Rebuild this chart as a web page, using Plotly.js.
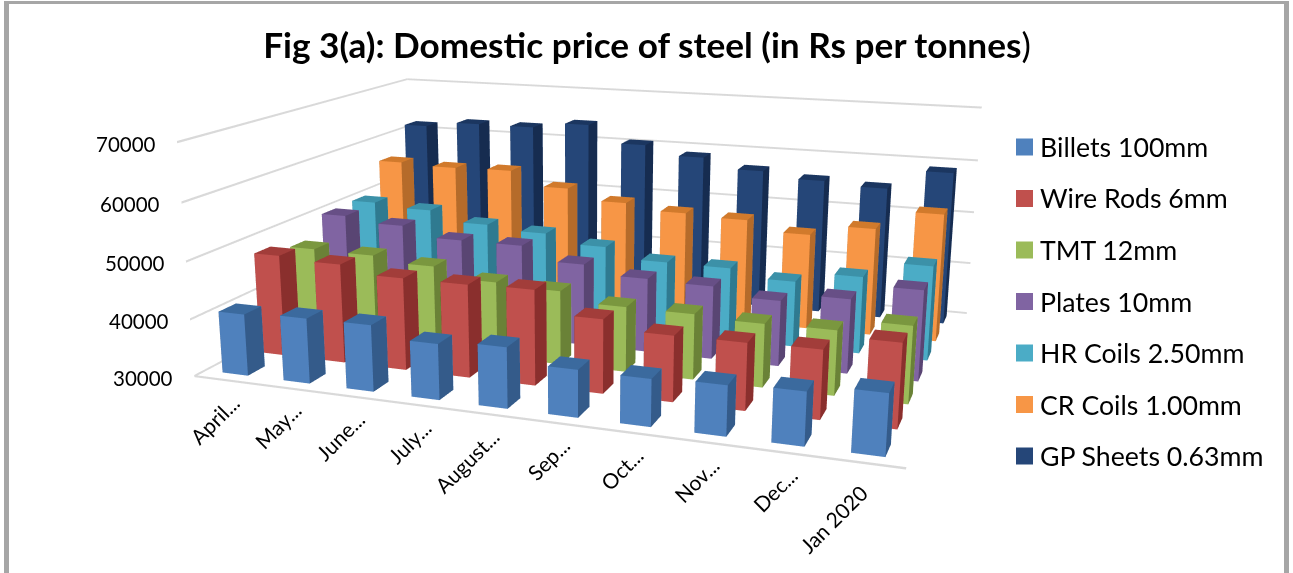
<!DOCTYPE html>
<html>
<head>
<meta charset="utf-8">
<script src="https://cdn.plot.ly/plotly-3.0.1.min.js"></script>
<style>
html,body{margin:0;padding:0;background:#fff;overflow:hidden;width:1293px;height:573px}
#chart{position:absolute;left:0;top:-324px;width:1293px;height:1222px}
</style>
</head>
<body>
<div id="chart"></div>
<script>
var categories = ["April...","May...","June...","July...","August...","Sep...","Oct...","Nov...","Dec...","Jan 2020"];
var seriesNames = ["Billets 100mm","Wire Rods 6mm","TMT 12mm","Plates 10mm","HR Coils 2.50mm","CR Coils 1.00mm","GP Sheets 0.63mm"];

var billets  = [40800,41300,41400,39500,40250,37900,37800,38200,38650,39850];
var wireRods = [48100,47600,46250,46250,46500,42700,41200,41300,41500,43900];
var tmt      = [46500,46350,45400,43600,43150,41500,41450,41000,41150,43150];
var plates   = [50150,49200,47400,47400,44950,43400,43150,41700,43150,45850];
var hrCoils  = [50300,49650,47750,47000,45400,43500,43450,42050,44000,47000];
var crCoils  = [56150,55800,56000,53300,51300,50200,49800,47950,50000,53600];
var gpSheets = [61700,62750,62750,63900,60550,58800,56900,55800,55150,58900];
var allSeries = [billets,wireRods,tmt,plates,hrCoils,crCoils,gpSheets];

var frontColors = ["#4F81BD","#C0504D","#9BBB59","#8064A2","#4BACC6","#F79646","#254678"];
var sideColors  = ["#345B8A","#8A2F2D","#6A8237","#594573","#2F7A90","#B56B2A","#162C50"];
var topColors   = ["#3B6A9E","#A23D3A","#7A973F","#674F86","#3C91A8","#D17A2C","#1B3660"];
var zTicks = [30000,40000,50000,60000,70000];
var gridColor = '#D9D9D9';

var Z0 = 30000, Z1 = 70000, BAR_X = 0.21, BAR_Y = 0.225, LINE_HALF = 190, ZPAD = 300;
var OFFSET = 324, H = 1222, W = 1293;
var NX = categories.length, NY = seriesNames.length;
function px(x){return x/W;}
function py(y){return 1-(y+OFFSET)/H;}

function barMesh(idx){
  var vals = allSeries[idx], xs=[],ys=[],zs=[],I=[],J=[],K=[],fc=[];
  var face = [
    [[0,1,5,4],frontColors[idx]],
    [[1,2,6,5],sideColors[idx]],
    [[4,5,6,7],topColors[idx]],
    [[3,0,4,7],sideColors[idx]],
    [[2,3,7,6],frontColors[idx]]
  ];
  vals.forEach(function(v,c){
    var n = xs.length, cx=c+0.5, cy=idx+0.5;
    [[-1,-1,0],[1,-1,0],[1,1,0],[-1,1,0],[-1,-1,1],[1,-1,1],[1,1,1],[-1,1,1]].forEach(function(p){
      xs.push(cx+p[0]*BAR_X); ys.push(cy+p[1]*BAR_Y); zs.push(p[2]?v:Z0);
    });
    face.forEach(function(f){
      var q=f[0];
      I.push(n+q[0]);J.push(n+q[1]);K.push(n+q[2]);fc.push(f[1]);
      I.push(n+q[0]);J.push(n+q[2]);K.push(n+q[3]);fc.push(f[1]);
    });
  });
  return {type:'mesh3d',name:seriesNames[idx],x:xs,y:ys,z:zs,i:I,j:J,k:K,facecolor:fc,flatshading:true,
    lighting:{ambient:1,diffuse:0,specular:0,roughness:1,fresnel:0},hoverinfo:'skip',showscale:false};
}

/* wall gridlines and the front floor edge, as thin ribbons so they keep a 2px weight */
function gridMesh(){
  var xs=[],ys=[],zs=[],I=[],J=[],K=[];
  function ribbon(x0,y0,x1,y1,t){
    var n=xs.length;
    xs.push(x0,x1,x1,x0); ys.push(y0,y1,y1,y0); zs.push(t-LINE_HALF,t-LINE_HALF,t+LINE_HALF,t+LINE_HALF);
    I.push(n,n); J.push(n+1,n+2); K.push(n+2,n+3);
  }
  zTicks.forEach(function(t){ ribbon(0,0,0,NY,t); ribbon(0,NY,NX,NY,t); });
  ribbon(0,0,NX,0,Z0);
  return {type:'mesh3d',x:xs,y:ys,z:zs,i:I,j:J,k:K,color:gridColor,flatshading:true,
    lighting:{ambient:1,diffuse:0,specular:0,roughness:1,fresnel:0},hoverinfo:'skip',showscale:false};
}

var traces = allSeries.map(function(_,i){return barMesh(i);});
traces.push(gridMesh());

var labelFont = {family:'Lato, sans-serif',size:20.5,color:'#000'};
var xLabelFont = {family:'Lato, sans-serif',size:21,color:'#000'};
var sceneAnn = [];
zTicks.forEach(function(t){
  sceneAnn.push({x:0,y:0,z:t,text:String(t),showarrow:false,xanchor:'right',yanchor:'middle',xshift:-19,yshift:-1.5,font:labelFont});
});
categories.forEach(function(c,i){
  var last = i===NX-1;
  sceneAnn.push({x:i+0.5,y:0,z:Z0,text:c,showarrow:false,xanchor:'right',yanchor:'top',textangle:-45,
    xshift:last?11:22,yshift:last?-14:-7,font:xLabelFont});
});

var frameColor='#A6A6A6';
function frameRect(x0,x1,y0,y1){return {type:'rect',xref:'paper',yref:'paper',x0:px(x0),x1:px(x1),y0:py(y0),y1:py(y1),line:{width:0},fillcolor:frameColor};}
var shapes = [frameRect(4,1289,1,4),frameRect(4,9,1,600),frameRect(1284,1289,1,600)];
var paperAnn = [];
seriesNames.forEach(function(n,i){
  var yc = 147+i*51.5;
  shapes.push({type:'rect',xref:'paper',yref:'paper',x0:px(1016),x1:px(1033),y0:py(yc-8.5),y1:py(yc+8.5),
    line:{width:0},fillcolor:frontColors[i]});
  paperAnn.push({xref:'paper',yref:'paper',x:px(1038),y:py(yc),text:n,showarrow:false,xanchor:'left',yanchor:'middle',
    font:{family:'Lato, sans-serif',size:26.7,color:'#000'}});
});

var hiddenAxis = {showgrid:false,zeroline:false,showline:false,showticklabels:false,ticks:'',showbackground:false,showspikes:false,title:{text:''}};
var layout = {
  width:W,height:H,margin:{l:0,r:0,t:0,b:0,pad:0},paper_bgcolor:'#fff',showlegend:false,
  title:{text:'<b>Fig 3(a): Domestic price of steel (in Rs per tonnes</b>)',x:px(647),y:py(46),xref:'paper',yref:'paper',
    xanchor:'center',yanchor:'middle',font:{family:'Lato, sans-serif',size:35.2,color:'#000'}},
  shapes:shapes,annotations:paperAnn,
  scene:{
    domain:{x:[0,1160/W],y:[0,1]},
    aspectmode:'manual',aspectratio:{x:1.47,y:1.029,z:0.494*(Z1-Z0+2*ZPAD)/(Z1-Z0)},
    camera:{eye:{x:1.0209,y:-2.9869,z:0.753},center:{x:-0.055,y:-0.024,z:-0.117},up:{x:0,y:0,z:1},projection:{type:'perspective'}},
    xaxis:Object.assign({},hiddenAxis,{range:[0,NX]}),
    yaxis:Object.assign({},hiddenAxis,{range:[0,NY]}),
    zaxis:Object.assign({},hiddenAxis,{range:[Z0-ZPAD,Z1+ZPAD]}),
    annotations:sceneAnn,bgcolor:'#fff'
  }
};
Plotly.newPlot('chart',traces,layout,{displayModeBar:false,responsive:false});
</script>
</body>
</html>
